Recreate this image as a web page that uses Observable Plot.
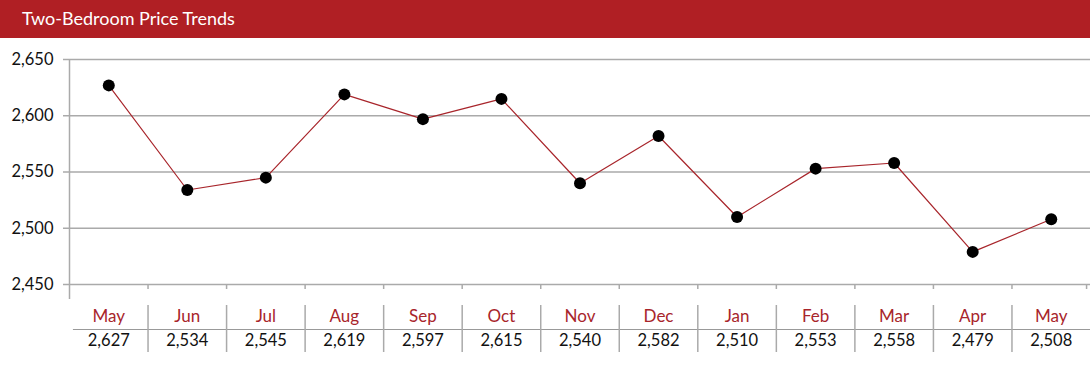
<!DOCTYPE html>
<html>
<head>
<meta charset="utf-8">
<script src="https://cdn.jsdelivr.net/npm/d3@7"></script>
<script src="https://cdn.jsdelivr.net/npm/@observablehq/plot@0.6"></script>
<style>
  html, body { margin: 0; padding: 0; background: #fff; }
  #header { height: 38px; background: #B01F24; color: #fff; font-family: Lato, "DejaVu Sans", sans-serif; font-size: 18px; line-height: 36px; padding-left: 22px; box-sizing: border-box; letter-spacing: 0px; }
  #chart svg { display: block; }
</style>
</head>
<body>
<div id="header">Two-Bedroom Price Trends</div>
<div id="chart"></div>
<script>
const months = ["May","Jun","Jul","Aug","Sep","Oct","Nov","Dec","Jan","Feb","Mar","Apr","May"];
const prices = [2627,2534,2545,2619,2597,2615,2540,2582,2510,2553,2558,2479,2508];
const yTicks = [2450,2500,2550,2600,2650];

const data = months.map((m, i) => ({i, month: m, price: prices[i]}));
const bounds = months.slice(1).map((m, i) => i + 0.5);
const fmt = d3.format(",");
const red = "#A8252B";
const font = "Lato, 'DejaVu Sans', sans-serif";
const yMin = yTicks[0], yMax = yTicks[yTicks.length - 1];

const chart = Plot.plot({
  width: 1090,
  height: 333,
  marginTop: 21,
  marginBottom: 87,
  marginLeft: 69,
  marginRight: 0,
  style: {fontFamily: font, fontSize: "16px", color: "#111", background: "#fff", overflow: "visible"},
  x: {type: "linear", domain: [-0.5, 12.5], axis: null},
  y: {type: "linear", domain: [yMin, yMax], label: null},
  marks: [
    Plot.ruleY(yTicks, {x1: -0.5, x2: 12.5, stroke: "#aaa", strokeWidth: 1.5}),
    Plot.ruleX([-0.5], {y1: yMax, y2: yMin, stroke: "#aaa", strokeWidth: 1.5, insetBottom: -15}),
    Plot.ruleX(bounds.concat([12.45]), {y1: yMin, y2: yMin, stroke: "#aaa", strokeWidth: 1.5, insetBottom: -5}),
    Plot.axisY({ticks: yTicks, tickFormat: fmt, tickSize: 6, tickPadding: 10, stroke: "#aaa", strokeWidth: 1.5, fontSize: 16.5, fill: "#111", label: null}),
    Plot.line(data, {x: "i", y: "price", stroke: red, strokeWidth: 1.2}),
    Plot.dot(data, {x: "i", y: "price", r: 6, fill: "#000", stroke: "none"}),
    // table below the plot
    Plot.text(data, {x: "i", y: () => yMin, text: "month", dy: 32, fill: red, fontSize: 17, fontFamily: font}),
    Plot.text(data, {x: "i", y: () => yMin, text: d => fmt(d.price), dy: 56, fill: "#111", fontSize: 16.5, fontFamily: font}),
    Plot.ruleY([yMin], {x1: -0.45, x2: 12.5, stroke: "#999", strokeWidth: 1.2, dy: 45}),
    Plot.ruleX(bounds, {y1: yMin, y2: yMin, stroke: "#aaa", strokeWidth: 1.5, insetTop: 21, insetBottom: -68})
  ]
});
document.getElementById("chart").appendChild(chart);
</script>
</body>
</html>
